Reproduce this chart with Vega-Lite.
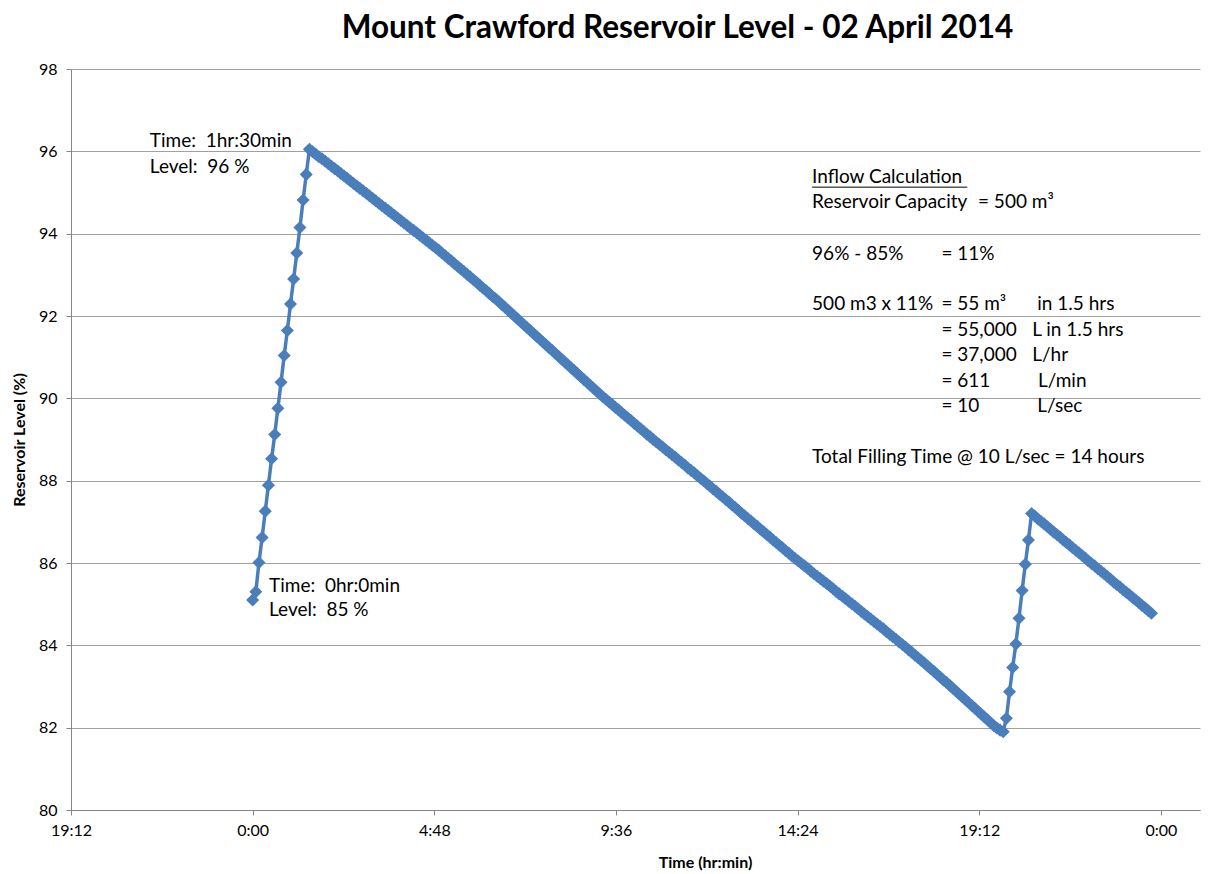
{
  "$schema": "https://vega.github.io/schema/vega-lite/v6.json",
  "width": 1129,
  "height": 741,
  "autosize": {"type": "none"},
  "padding": {"left": 71, "top": 69, "right": 10, "bottom": 64},
  "background": "white",
  "title": {"text": "Mount Crawford Reservoir Level - 02 April 2014", "font": "Lato", "fontSize": 31.5, "fontWeight": "bold", "color": "#000000", "anchor": "middle", "dx": 42, "offset": 17},
  "config": {"view": {"stroke": null}, "font": "Lato"},
  "datasets": {
    "level": [
      {"m":0,"v":85.10},{"m":5,"v":85.30},{"m":10,"v":86.01},{"m":15,"v":86.62},{"m":20,"v":87.26},{"m":25,"v":87.89},{"m":30,"v":88.53},{"m":35,"v":89.12},{"m":40,"v":89.76},{"m":45,"v":90.39},
      {"m":50,"v":91.04},{"m":55,"v":91.65},{"m":60,"v":92.29},{"m":65,"v":92.90},{"m":70,"v":93.53},{"m":75,"v":94.15},{"m":80,"v":94.82},{"m":85,"v":95.44},{"m":90,"v":96.05},{"m":95,"v":95.99},
      {"m":100,"v":95.93},{"m":105,"v":95.87},{"m":110,"v":95.82},{"m":115,"v":95.76},{"m":120,"v":95.70},{"m":125,"v":95.64},{"m":130,"v":95.58},{"m":135,"v":95.52},{"m":140,"v":95.46},{"m":145,"v":95.40},
      {"m":150,"v":95.34},{"m":155,"v":95.28},{"m":160,"v":95.22},{"m":165,"v":95.16},{"m":170,"v":95.10},{"m":175,"v":95.04},{"m":180,"v":94.98},{"m":185,"v":94.92},{"m":190,"v":94.86},{"m":195,"v":94.80},
      {"m":200,"v":94.74},{"m":205,"v":94.68},{"m":210,"v":94.62},{"m":215,"v":94.56},{"m":220,"v":94.50},{"m":225,"v":94.44},{"m":230,"v":94.38},{"m":235,"v":94.32},{"m":240,"v":94.26},{"m":245,"v":94.20},
      {"m":250,"v":94.14},{"m":255,"v":94.08},{"m":260,"v":94.02},{"m":265,"v":93.96},{"m":270,"v":93.90},{"m":275,"v":93.84},{"m":280,"v":93.78},{"m":285,"v":93.72},{"m":290,"v":93.66},{"m":295,"v":93.60},
      {"m":300,"v":93.53},{"m":305,"v":93.47},{"m":310,"v":93.40},{"m":315,"v":93.34},{"m":320,"v":93.27},{"m":325,"v":93.21},{"m":330,"v":93.14},{"m":335,"v":93.08},{"m":340,"v":93.01},{"m":345,"v":92.95},
      {"m":350,"v":92.88},{"m":355,"v":92.82},{"m":360,"v":92.75},{"m":365,"v":92.68},{"m":370,"v":92.62},{"m":375,"v":92.55},{"m":380,"v":92.48},{"m":385,"v":92.42},{"m":390,"v":92.35},{"m":395,"v":92.28},
      {"m":400,"v":92.21},{"m":405,"v":92.14},{"m":410,"v":92.07},{"m":415,"v":92.00},{"m":420,"v":91.93},{"m":425,"v":91.86},{"m":430,"v":91.79},{"m":435,"v":91.72},{"m":440,"v":91.65},{"m":445,"v":91.58},
      {"m":450,"v":91.51},{"m":455,"v":91.44},{"m":460,"v":91.37},{"m":465,"v":91.30},{"m":470,"v":91.23},{"m":475,"v":91.16},{"m":480,"v":91.09},{"m":485,"v":91.02},{"m":490,"v":90.95},{"m":495,"v":90.88},
      {"m":500,"v":90.81},{"m":505,"v":90.74},{"m":510,"v":90.67},{"m":515,"v":90.60},{"m":520,"v":90.53},{"m":525,"v":90.46},{"m":530,"v":90.39},{"m":535,"v":90.32},{"m":540,"v":90.25},{"m":545,"v":90.18},
      {"m":550,"v":90.11},{"m":555,"v":90.04},{"m":560,"v":89.98},{"m":565,"v":89.91},{"m":570,"v":89.85},{"m":575,"v":89.78},{"m":580,"v":89.72},{"m":585,"v":89.65},{"m":590,"v":89.59},{"m":595,"v":89.52},
      {"m":600,"v":89.46},{"m":605,"v":89.39},{"m":610,"v":89.33},{"m":615,"v":89.26},{"m":620,"v":89.20},{"m":625,"v":89.13},{"m":630,"v":89.07},{"m":635,"v":89.00},{"m":640,"v":88.94},{"m":645,"v":88.88},
      {"m":650,"v":88.82},{"m":655,"v":88.75},{"m":660,"v":88.69},{"m":665,"v":88.63},{"m":670,"v":88.57},{"m":675,"v":88.50},{"m":680,"v":88.44},{"m":685,"v":88.38},{"m":690,"v":88.31},{"m":695,"v":88.25},
      {"m":700,"v":88.19},{"m":705,"v":88.12},{"m":710,"v":88.06},{"m":715,"v":88.00},{"m":720,"v":87.93},{"m":725,"v":87.87},{"m":730,"v":87.80},{"m":735,"v":87.74},{"m":740,"v":87.67},{"m":745,"v":87.61},
      {"m":750,"v":87.54},{"m":755,"v":87.48},{"m":760,"v":87.41},{"m":765,"v":87.35},{"m":770,"v":87.28},{"m":775,"v":87.21},{"m":780,"v":87.15},{"m":785,"v":87.08},{"m":790,"v":87.02},{"m":795,"v":86.95},
      {"m":800,"v":86.89},{"m":805,"v":86.82},{"m":810,"v":86.76},{"m":815,"v":86.69},{"m":820,"v":86.63},{"m":825,"v":86.56},{"m":830,"v":86.50},{"m":835,"v":86.43},{"m":840,"v":86.37},{"m":845,"v":86.30},
      {"m":850,"v":86.24},{"m":855,"v":86.17},{"m":860,"v":86.11},{"m":865,"v":86.05},{"m":870,"v":85.99},{"m":875,"v":85.93},{"m":880,"v":85.87},{"m":885,"v":85.80},{"m":890,"v":85.74},{"m":895,"v":85.68},
      {"m":900,"v":85.62},{"m":905,"v":85.56},{"m":910,"v":85.50},{"m":915,"v":85.44},{"m":920,"v":85.38},{"m":925,"v":85.31},{"m":930,"v":85.25},{"m":935,"v":85.19},{"m":940,"v":85.13},{"m":945,"v":85.07},
      {"m":950,"v":85.01},{"m":955,"v":84.95},{"m":960,"v":84.89},{"m":965,"v":84.82},{"m":970,"v":84.76},{"m":975,"v":84.70},{"m":980,"v":84.64},{"m":985,"v":84.58},{"m":990,"v":84.52},{"m":995,"v":84.46},
      {"m":1000,"v":84.40},{"m":1005,"v":84.33},{"m":1010,"v":84.27},{"m":1015,"v":84.21},{"m":1020,"v":84.15},{"m":1025,"v":84.08},{"m":1030,"v":84.02},{"m":1035,"v":83.96},{"m":1040,"v":83.89},{"m":1045,"v":83.83},
      {"m":1050,"v":83.76},{"m":1055,"v":83.70},{"m":1060,"v":83.63},{"m":1065,"v":83.57},{"m":1070,"v":83.50},{"m":1075,"v":83.43},{"m":1080,"v":83.37},{"m":1085,"v":83.30},{"m":1090,"v":83.23},{"m":1095,"v":83.16},
      {"m":1100,"v":83.10},{"m":1105,"v":83.03},{"m":1110,"v":82.96},{"m":1115,"v":82.89},{"m":1120,"v":82.82},{"m":1125,"v":82.75},{"m":1130,"v":82.68},{"m":1135,"v":82.61},{"m":1140,"v":82.54},{"m":1145,"v":82.47},
      {"m":1150,"v":82.40},{"m":1155,"v":82.33},{"m":1160,"v":82.26},{"m":1165,"v":82.19},{"m":1170,"v":82.12},{"m":1175,"v":82.05},{"m":1180,"v":81.99},{"m":1185,"v":81.94},{"m":1190,"v":81.90},{"m":1195,"v":82.23},
      {"m":1200,"v":82.87},{"m":1205,"v":83.46},{"m":1210,"v":84.03},{"m":1215,"v":84.66},{"m":1220,"v":85.33},{"m":1225,"v":85.97},{"m":1230,"v":86.56},{"m":1235,"v":87.20},{"m":1240,"v":87.14},{"m":1245,"v":87.07},
      {"m":1250,"v":87.01},{"m":1255,"v":86.95},{"m":1260,"v":86.88},{"m":1265,"v":86.82},{"m":1270,"v":86.75},{"m":1275,"v":86.69},{"m":1280,"v":86.63},{"m":1285,"v":86.56},{"m":1290,"v":86.50},{"m":1295,"v":86.44},
      {"m":1300,"v":86.37},{"m":1305,"v":86.31},{"m":1310,"v":86.25},{"m":1315,"v":86.18},{"m":1320,"v":86.12},{"m":1325,"v":86.05},{"m":1330,"v":85.99},{"m":1335,"v":85.93},{"m":1340,"v":85.86},{"m":1345,"v":85.80},
      {"m":1350,"v":85.74},{"m":1355,"v":85.67},{"m":1360,"v":85.61},{"m":1365,"v":85.54},{"m":1370,"v":85.48},{"m":1375,"v":85.42},{"m":1380,"v":85.35},{"m":1385,"v":85.29},{"m":1390,"v":85.23},{"m":1395,"v":85.16},
      {"m":1400,"v":85.10},{"m":1405,"v":85.04},{"m":1410,"v":84.97},{"m":1415,"v":84.91},{"m":1420,"v":84.84},{"m":1425,"v":84.78}
    ],
    "notes": [
      {"m":-163,"v":96.25,"label":"Time: \u00a01hr:30min"},
      {"m":-163,"v":95.62,"label":"Level: \u00a096 %"},
      {"m":26,"v":85.44,"label":"Time: \u00a00hr:0min"},
      {"m":26,"v":84.86,"label":"Level: \u00a085 %"},
      {"m":887,"v":95.38,"label":"Inflow Calculation"},
      {"m":887,"v":94.77,"label":"Reservoir Capacity"},
      {"m":1150,"v":94.77,"label":"= 500 m³"},
      {"m":887,"v":93.50,"label":"96% - 85%"},
      {"m":1092,"v":93.50,"label":"= 11%"},
      {"m":887,"v":92.29,"label":"500 m3 x 11%"},
      {"m":1092,"v":92.29,"label":"= 55 m³"},
      {"m":1244,"v":92.29,"label":"in 1.5 hrs"},
      {"m":1092,"v":91.66,"label":"= 55,000"},
      {"m":1236,"v":91.66,"label":"L in 1.5 hrs"},
      {"m":1092,"v":91.05,"label":"= 37,000"},
      {"m":1236,"v":91.05,"label":"L/hr"},
      {"m":1092,"v":90.42,"label":"= 611"},
      {"m":1245,"v":90.42,"label":"L/min"},
      {"m":1092,"v":89.81,"label":"= 10"},
      {"m":1244,"v":89.81,"label":"L/sec"},
      {"m":887,"v":88.57,"label":"Total Filling Time @ 10 L/sec = 14 hours"}
    ],
    "uline": [
      {"m":887,"m2":1133,"v":95.13}
    ]
  },
  "encoding": {
    "x": {
      "field": "m", "type": "quantitative",
      "scale": {"domain": [-288, 1502], "nice": false, "zero": false},
      "axis": {
        "title": "Time (hr:min)",
        "values": [-288, 0, 288, 576, 864, 1152, 1440],
        "labelExpr": "floor((((datum.value % 1440) + 1440) % 1440) / 60) + ':' + format((((datum.value % 1440) + 1440) % 1440) % 60, '02d')",
        "grid": false,
        "domainColor": "#868686", "tickColor": "#868686", "tickSize": 5,
        "labelFont": "Lato", "labelFontSize": 16, "labelColor": "#000000", "labelPadding": 7,
        "labelFlush": false, "labelOverlap": false, "labelBound": false,
        "titleFont": "Lato", "titleFontSize": 16, "titleFontWeight": "bold", "titleColor": "#000000",
        "titleX": 634, "titleY": 52, "titleBaseline": "middle", "titleAlign": "center"
      }
    },
    "y": {
      "field": "v", "type": "quantitative",
      "scale": {"domain": [80, 98], "nice": false, "zero": false},
      "axis": {
        "title": "Reservoir Level (%)",
        "values": [80, 82, 84, 86, 88, 90, 92, 94, 96, 98],
        "grid": true, "gridColor": "#a0a0a0", "gridWidth": 1,
        "domainColor": "#868686", "tickColor": "#868686", "tickSize": 5,
        "labelFont": "Lato", "labelFontSize": 16, "labelColor": "#000000", "labelPadding": 9,
        "titleFont": "Lato", "titleFontSize": 16, "titleFontWeight": "bold", "titleColor": "#000000",
        "titlePadding": 11
      }
    }
  },
  "layer": [
    {
      "data": {"name": "level"},
      "mark": {"type": "line", "color": "#4A7EBB", "strokeWidth": 3.5, "strokeJoin": "round"}
    },
    {
      "data": {"name": "level"},
      "mark": {"type": "point", "shape": "diamond", "filled": true, "size": 170, "color": "#4A7EBB", "opacity": 1}
    },
    {
      "data": {"name": "uline"},
      "mark": {"type": "rule", "color": "#000000", "strokeWidth": 1},
      "encoding": {"x2": {"field": "m2"}}
    },
    {
      "data": {"name": "notes"},
      "mark": {"type": "text", "align": "left", "baseline": "middle", "font": "Lato", "fontSize": 19, "color": "#000000"},
      "encoding": {"text": {"field": "label", "type": "nominal"}}
    }
  ]
}
